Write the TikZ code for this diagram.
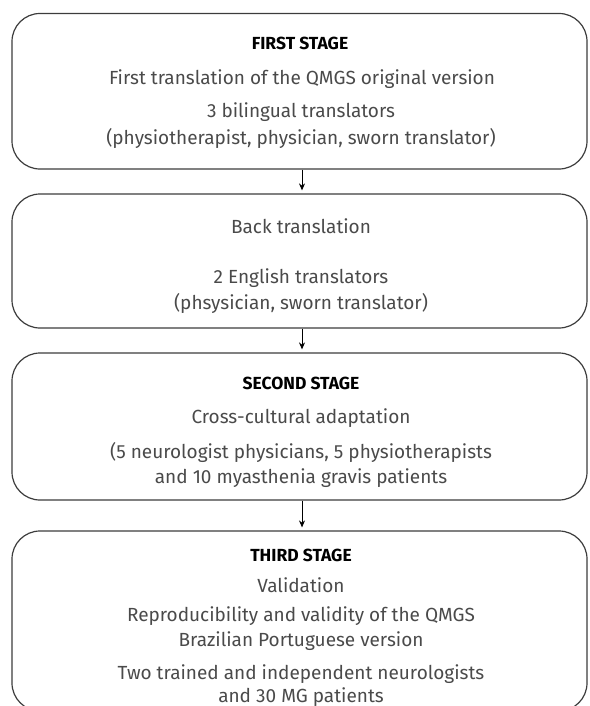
\documentclass[tikz,border=0pt]{standalone}
\usepackage{fontspec}
\setmainfont{Fira Sans}
\usetikzlibrary{arrows.meta}
\definecolor{txt}{HTML}{4A4A4A}
\definecolor{edge}{HTML}{3C3C3C}
\begin{document}
\begin{tikzpicture}[x=1pt,y=-1pt,
  stagebox/.style={draw=edge, line width=1.2pt, rounded corners=28pt, minimum width=575pt, inner sep=0pt},
  body/.style={text=txt, font=\fontsize{19}{22}\selectfont, inner sep=0pt},
  head/.style={text=black, font=\fontsize{17.5}{20}\selectfont\bfseries, inner sep=0pt},
  flow/.style={draw=black, line width=1pt, -{Stealth[length=7pt,width=6pt]}, shorten >=3pt}]
\useasboundingbox (0,0) rectangle (589,706);
\node[stagebox, minimum height=155.5pt] (b1) at (299.5,91.25) {};
\node[stagebox, minimum height=134pt] (b2) at (299.5,261) {};
\node[stagebox, minimum height=147pt] (b3) at (299.5,426.5) {};
\node[stagebox, minimum height=180pt] (b4) at (299.5,621) {};
\node[head] (t1) at (300,43) {FIRST STAGE};
\node[body] (t1a) at (302,79) {First translation of the QMGS original version};
\node[body] (t1b) at (301,112) {3 bilingual translators};
\node[body] (t1c) at (301,138) {(physiotherapist, physician, sworn translator)};
\node[body] (t2a) at (301,226) {Back translation};
\node[body] (t2b) at (301,278) {2 English translators};
\node[body] (t2c) at (301,303) {(phsysician, sworn translator)};
\node[head] (t3) at (301,383) {SECOND STAGE};
\node[body] (t3a) at (301,418) {Cross-cultural adaptation};
\node[body] (t3b) at (301,452) {(5 neurologist physicians, 5 physiotherapists};
\node[body] (t3c) at (301,478) {and 10 myasthenia gravis patients};
\node[head] (t4) at (301,555) {THIRD STAGE};
\node[body] (t4a) at (301,585) {Validation};
\node[body] (t4b) at (301,616) {Reproducibility and validity of the QMGS};
\node[body] (t4c) at (301,641) {Brazilian Portuguese version};
\node[body] (t4d) at (301,674) {Two trained and independent neurologists};
\node[body] (t4e) at (301,697) {and 30 MG patients};
\draw[flow] (b1.south -| 302,0) -- (b2.north -| 302,0);
\draw[flow] (b2.south -| 302,0) -- (b3.north -| 302,0);
\draw[flow] (b3.south -| 302,0) -- (b4.north -| 302,0);
\end{tikzpicture}
\end{document}
